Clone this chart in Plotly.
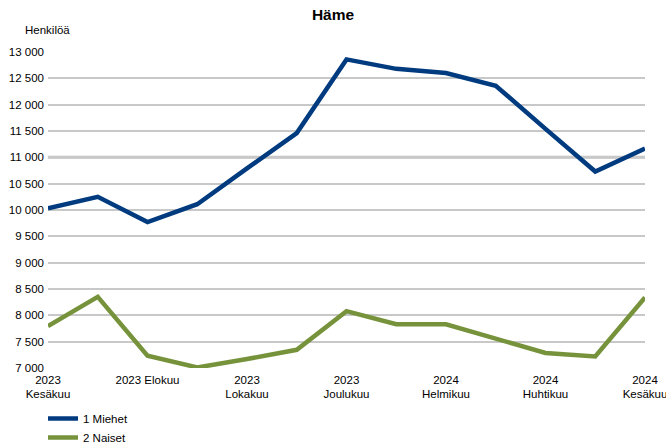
import plotly.graph_objects as go

months = ["2023 Kesäkuu", "2023 Heinäkuu", "2023 Elokuu", "2023 Syyskuu", "2023 Lokakuu",
          "2023 Marraskuu", "2023 Joulukuu", "2024 Tammikuu", "2024 Helmikuu", "2024 Maaliskuu",
          "2024 Huhtikuu", "2024 Toukokuu", "2024 Kesäkuu"]
miehet = [10030, 10250, 9770, 10110, 10790, 11460, 12860, 12680, 12600, 12360, 11540, 10730, 11165]
naiset = [7795, 8350, 7235, 7010, 7170, 7345, 8080, 7830, 7830, 7555, 7285, 7220, 8340]

tick_months = ["2023 Kesäkuu", "2023 Elokuu", "2023 Lokakuu", "2023 Joulukuu",
               "2024 Helmikuu", "2024 Huhtikuu", "2024 Kesäkuu"]
tick_labels = ["2023<br>Kesäkuu", "2023 Elokuu", "2023<br>Lokakuu", "2023<br>Joulukuu",
               "2024<br>Helmikuu", "2024<br>Huhtikuu", "2024<br>Kesäkuu"]
y_ticks = list(range(7000, 13001, 500))
y_labels = [f"{v:,}".replace(",", " ") for v in y_ticks]

font = "Liberation Sans, Arial, sans-serif"

fig = go.Figure()
fig.add_trace(go.Scatter(x=months, y=miehet, mode="lines", name="1 Miehet",
                         line=dict(color="#003B7F", width=4.5), cliponaxis=False))
fig.add_trace(go.Scatter(x=months, y=naiset, mode="lines", name="2 Naiset",
                         line=dict(color="#76933C", width=4.5), cliponaxis=False))

fig.add_hline(y=11000, line=dict(color="#BFBFBF", width=3), layer="below")

fig.update_layout(
    width=666, height=445,
    margin=dict(l=48, r=21, t=52, b=77, autoexpand=False),
    paper_bgcolor="white", plot_bgcolor="white",
    font=dict(family=font, size=11.5, color="#000000"),
    title=dict(text="<b>Häme</b>", x=0.5, xanchor="center", y=0.968, yanchor="middle",
               font=dict(size=15.5, family=font)),
    showlegend=True,
    legend=dict(orientation="v", xref="container", yref="container",
                x=43 / 666, xanchor="left", y=1 - 404 / 445, yanchor="top",
                font=dict(size=11.5), tracegroupgap=0, itemwidth=30,
                bgcolor="rgba(0,0,0,0)"),
    annotations=[dict(text="Henkilöä", xref="paper", yref="paper", x=-0.042, y=1.045,
                      xanchor="left", yanchor="bottom", showarrow=False,
                      font=dict(size=11.5, family=font))],
)
fig.update_xaxes(type="category", categoryorder="array", categoryarray=months,
                 range=[0, len(months) - 1], tickmode="array", tickvals=tick_months,
                 ticktext=tick_labels, showgrid=False, zeroline=False, showline=False,
                 ticks="", tickangle=0, tickfont=dict(size=11.5), automargin=False,
                 ticklabelstandoff=3)
fig.update_yaxes(range=[7000, 13000], tickmode="array", tickvals=y_ticks, ticktext=y_labels,
                 showgrid=True, gridcolor="#C8C8C8", gridwidth=1.5, zeroline=False,
                 showline=False, ticks="", tickfont=dict(size=11.5), automargin=False,
                 ticklabelstandoff=3)

fig.write_html("out.html", config={"displayModeBar": False},
               post_script="document.body.style.margin='0px';")
